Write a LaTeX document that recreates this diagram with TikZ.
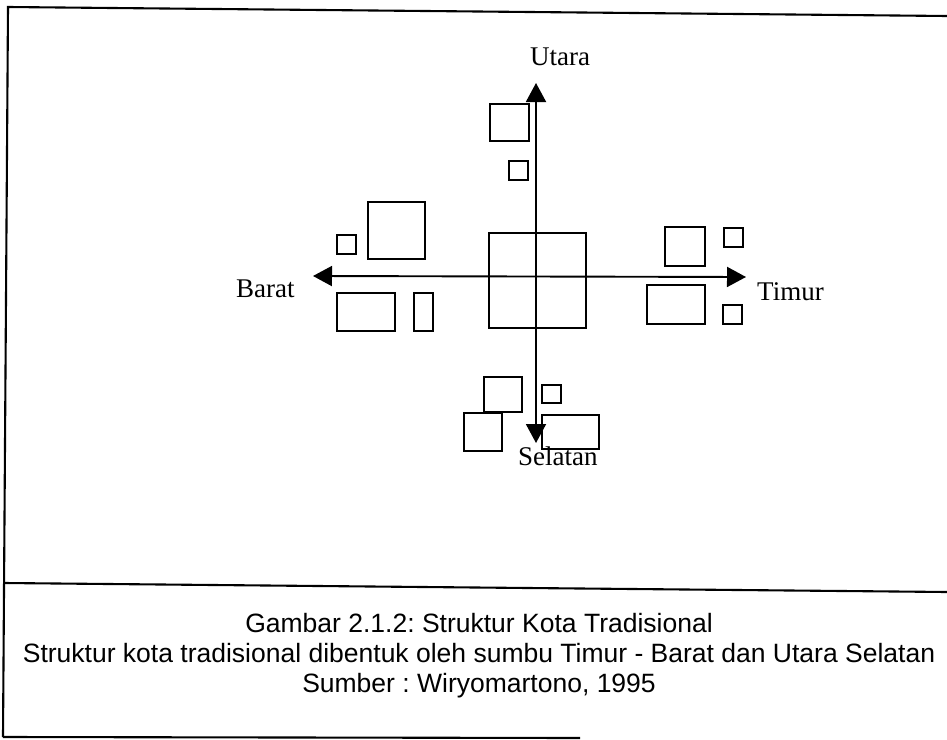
\documentclass[tikz,border=0pt]{standalone}
\usepackage{fontspec}
\setmainfont{Liberation Serif}
\newfontfamily\capfont{Liberation Sans}
\usetikzlibrary{arrows.meta}
\frenchspacing
\begin{document}
\begin{tikzpicture}[x=1bp,y=-1bp,
  box/.style={line width=2.3bp},
  axisline/.style={line width=1.9bp,{Triangle[length=19bp,width=20bp]}-{Triangle[length=19bp,width=20bp]}},
  lab/.style={font=\fontsize{27bp}{30bp}\selectfont, inner sep=0, anchor=base west},
  captext/.style={font=\capfont\fontsize{26.5bp}{30bp}\selectfont, inner sep=0, anchor=base},
  framel/.style={line width=2.1bp}]
\useasboundingbox (0,0) rectangle (947,740);
% frame
\coordinate (tl) at (8,7);
\coordinate (tr) at (947,16);
\coordinate (bl) at (3,737);
\coordinate (sl) at (4,583);
\coordinate (sr) at (947,592);
\coordinate (br) at (580,738);
\draw[framel] (tr) -- (tl) -- (bl);
\draw[framel] (sl) -- (sr);
\draw[framel] (bl) -- (br);
% axes
\coordinate (nt) at (536,83);
\coordinate (st) at (536,443);
\coordinate (wt) at (313,276);
\coordinate (et) at (746,277);
\draw[axisline] (st) -- (nt);
\draw[axisline] (wt) -- (et);
% north group
\draw[box] (490,104) rectangle (529,141);
\draw[box] (509,161) rectangle (528,180);
% west group
\draw[box] (337,235) rectangle (356,254);
\draw[box] (368,202) rectangle (425,259);
\draw[box] (337,293) rectangle (395,331);
\draw[box] (414,293) rectangle (433,331);
% centre
\draw[box] (489,233) rectangle (586,328);
% east group
\draw[box] (665,227) rectangle (705,266);
\draw[box] (724,228) rectangle (743,247);
\draw[box] (647,285) rectangle (705,324);
\draw[box] (723,305) rectangle (742,324);
% south group
\draw[box] (484,377) rectangle (522,412);
\draw[box] (464,413) rectangle (502,451);
\draw[box] (542,385) rectangle (561,403);
\draw[box] (542,415) rectangle (599,449);
% labels
\node[lab] (utara) at (530,66) {Utara};
\node[lab] (barat) at (236,297) {Barat};
\node[lab] (timur) at (757,300) {Timur};
\node[lab] (selatan) at (518,465) {Selatan};
% caption
\node[captext] (c1) at (479,632) {Gambar 2.1.2: Struktur Kota Tradisional};
\node[captext] (c2) at (479,662) {Struktur kota tradisional dibentuk oleh sumbu Timur - Barat dan Utara Selatan};
\node[captext] (c3) at (479,692) {Sumber : Wiryomartono, 1995};
\end{tikzpicture}
\end{document}
